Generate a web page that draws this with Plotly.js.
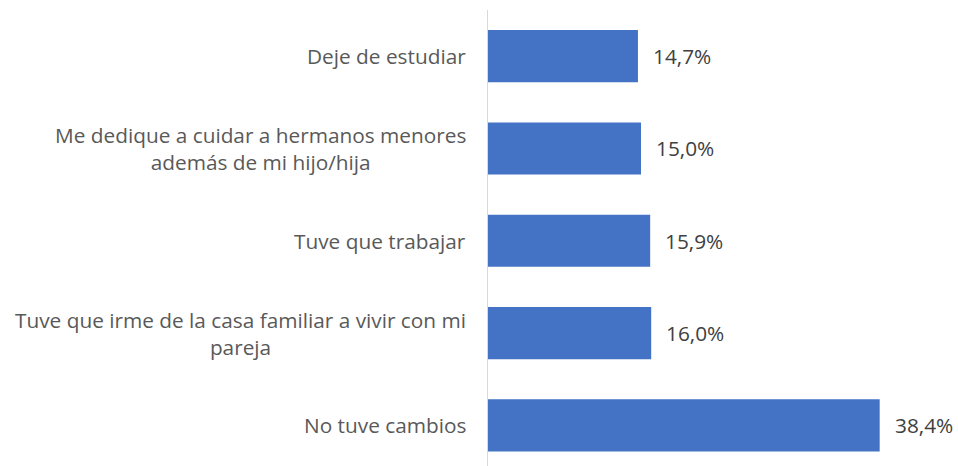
<!DOCTYPE html>
<html>
<head>
<meta charset="utf-8">
<script src="https://cdn.plot.ly/plotly-3.0.1.min.js"></script>
<style>html,body{margin:0;padding:0;background:#fff;}#chart{width:958px;height:466px;}</style>
</head>
<body>
<div id="chart"></div>
<script>
const categories = [
  "Deje de estudiar",
  "Me dedique a cuidar a hermanos menores<br>además de mi hijo/hija",
  "Tuve que trabajar",
  "Tuve que irme de la casa familiar a vivir con mi<br>pareja",
  "No tuve cambios"
];
const values = [14.7, 15.0, 15.9, 16.0, 38.4];
const valueLabels = values.map(v => v.toFixed(1).replace('.', ',') + '%');

const FONT = "Open Sans, Noto Sans, sans-serif";
const trace = {
  type: 'bar',
  orientation: 'h',
  x: values,
  y: categories,
  width: 0.565,
  marker: {color: '#4472C4'},
  hoverinfo: 'none'
};

const annotations = [];
categories.forEach((c, i) => {
  annotations.push({
    xref: 'paper', yref: 'y', x: 0, y: c,
    xanchor: 'right', yanchor: 'middle', align: 'center',
    xshift: -20, showarrow: false, text: c,
    font: {family: FONT, size: 20.8, color: '#595959'}
  });
  annotations.push({
    xref: 'x', yref: 'y', x: values[i], y: c,
    xanchor: 'left', yanchor: 'middle',
    xshift: 13, showarrow: false, text: valueLabels[i],
    font: {family: FONT, size: 20.8, color: '#404040'}
  });
});

const layout = {
  width: 958, height: 466,
  margin: {l: 488, r: 10.5, t: 10, b: 0},
  paper_bgcolor: '#fff', plot_bgcolor: '#fff',
  showlegend: false,
  xaxis: {range: [0, 45], showgrid: false, zeroline: false, showticklabels: false, showline: false, fixedrange: true},
  yaxis: {type: 'category', categoryarray: categories, range: [4.44, -0.5], showgrid: false, zeroline: false,
          showticklabels: false, showline: true, linecolor: '#d9d9d9', linewidth: 1.5, ticks: '', fixedrange: true},
  annotations: annotations
};

Plotly.newPlot('chart', [trace], layout, {displayModeBar: false, staticPlot: true});
</script>
</body>
</html>
